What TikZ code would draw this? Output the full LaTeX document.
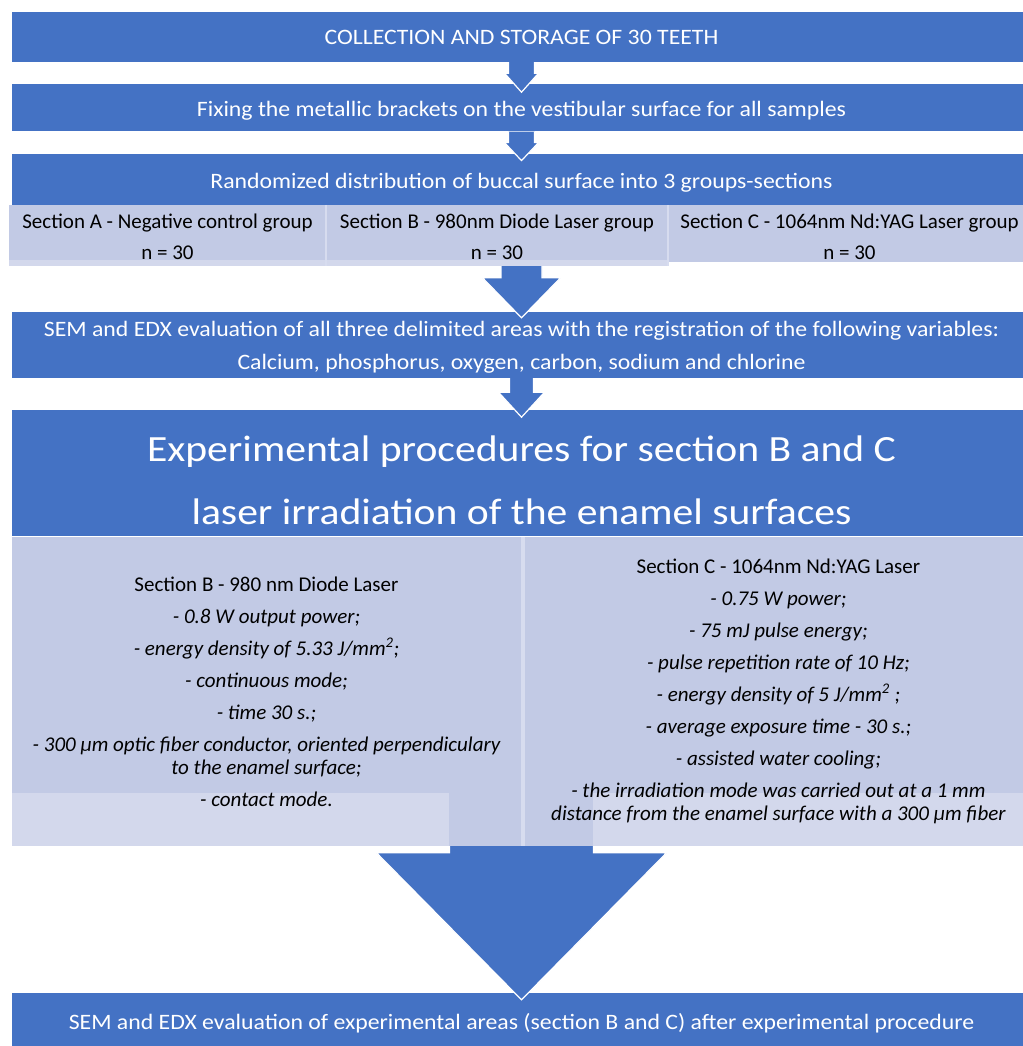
\documentclass[tikz,border=0pt]{standalone}
\usepackage{fontspec}
\setmainfont{Carlito}
\newfontfamily\widefont[FakeStretch=1.08]{Carlito}
\newfontfamily\titlefont[FakeStretch=1.125]{Carlito}
\usetikzlibrary{positioning,calc}

\definecolor{flowblue}{HTML}{4472C4}
\definecolor{cellgrey}{HTML}{C2CAE5}
\definecolor{celllight}{HTML}{D3D8EC}
\definecolor{cellline}{HTML}{D7DCEF}

\newcommand{\boxpad}[1]{\rule{0pt}{#1}}

\tikzset{
  bluebox/.style={fill=flowblue, text=white, minimum width=1019pt, inner sep=0pt, align=center, font=\widefont\fontsize{22}{33}\selectfont},
  cellbox/.style={fill=cellgrey, inner sep=0pt},
  celltext/.style={align=center, inner sep=0pt, font=\fontsize{21}{31}\selectfont},
  flowarrow/.style={fill=flowblue, draw=white, line width=1.2pt, line join=miter},
  listtext/.style={align=center, inner sep=0pt, font=\fontsize{21}{23}\selectfont\itshape}
}

% from, to, shaft half width, head half width, head length, overshoot
\newcommand{\blockarrow}[6]{%
  \path[flowarrow] let \p1=(#1.south), \p2=(#2.north) in
    (\x2-#3pt,\y1) -- (\x2-#3pt,\y2-#6pt+#5pt) -- (\x2-#4pt,\y2-#6pt+#5pt) -- (\x2,\y2-#6pt)
    -- (\x2+#4pt,\y2-#6pt+#5pt) -- (\x2+#3pt,\y2-#6pt+#5pt) -- (\x2+#3pt,\y1);
}

\begin{document}
\begin{tikzpicture}[x=1pt,y=1pt]
\useasboundingbox (0,0) rectangle (1022,-1046);

\node[bluebox, minimum height=50pt] (collect) at (521.5,-37) {COLLECTION AND STORAGE OF 30 TEETH};
\node[bluebox, minimum height=47pt, below=22pt of collect] (fixing) {\boxpad{21pt}Fixing the metallic brackets on the vestibular surface for all samples};
\node[bluebox, minimum height=52pt, below=22pt of fixing] (random) {\boxpad{22pt}Randomized distribution of buccal surface into 3 groups-sections};

\node[cellbox, minimum width=317pt, minimum height=61pt] (cellA) at (167.5,-235.5) {};
\node[cellbox, minimum width=342pt, minimum height=61pt] (cellB) at (497,-235.5) {};
\node[cellbox, minimum width=363pt, minimum height=57pt] (cellC) at (849.5,-233.5) {};
\fill[celllight] (cellA.south west) rectangle ($(cellB.south east)+(0,6)$);
\foreach \c in {cellA,cellB}
  \draw[cellline, line width=1.5pt] (\c.north east) -- (\c.south east);
\node[celltext] (txtA) at ($(cellA)+(0,-1)$) {Section A - Negative control group\\n = 30};
\node[celltext] (txtB) at ($(cellB)+(0,-1)$) {Section B - 980nm Diode Laser group\\n = 30};
\node[celltext] (txtC) at (cellC |- txtA) {Section C - 1064nm Nd:YAG Laser group\\n = 30};

\node[bluebox, minimum height=66pt] (evalall) at (521.5,-345) {\boxpad{20.5pt}SEM and EDX evaluation of all three delimited areas with the registration of the following variables:\\Calcium, phosphorus, oxygen, carbon, sodium and chlorine};
\node[bluebox, minimum height=126pt, below=32pt of evalall, font=\titlefont\fontsize{37}{63}\selectfont] (procs) {\boxpad{39pt}Experimental procedures for section B and C\\laser irradiation of the enamel surfaces};

\node[fill=cellgrey, minimum width=509pt, minimum height=309pt, inner sep=0pt, anchor=north west] (procB) at (procs.south west) {};
\node[fill=cellgrey, minimum width=506pt, minimum height=309pt, inner sep=0pt, anchor=north west] (procC) at ($(procB.north east)+(4,0)$) {};
\fill[cellline] (procB.north east) rectangle (procC.south west);
\fill[celllight] ($(procB.south west)+(0,53)$) rectangle ($(procB.south west)+(437,0)$);
\fill[celllight] ($(procC.south west)+(68,53)$) rectangle (procC.south east);

\node[listtext] (listB) at (procB) {\upshape Section B - 980 nm Diode Laser\\[9pt]
  - 0.8 W output power;\\[9pt]
  - energy density of 5.33 J/mm\textsuperscript{2};\\[9pt]
  - continuous mode;\\[9pt]
  - time 30 s.;\\[9pt]
  - 300 µm optic fiber conductor, oriented perpendiculary\\
  to the enamel surface;\\[9pt]
  - contact mode.};
\node[listtext] (listC) at (procC) {\upshape Section C - 1064nm Nd:YAG Laser\\[9pt]
  - 0.75 W power;\\[9pt]
  - 75 mJ pulse energy;\\[9pt]
  - pulse repetition rate of 10 Hz;\\[9pt]
  - energy density of 5 J/mm\textsuperscript{2} ;\\[9pt]
  - average exposure time - 30 s.;\\[9pt]
  - assisted water cooling;\\[9pt]
  - the irradiation mode was carried out at a 1 mm\\
  distance from the enamel surface with a 300 µm fiber};

\node[bluebox, minimum height=56pt] (final) at (521.5,-1021) {\boxpad{20.5pt}SEM and EDX evaluation of experimental areas (section B and C) after experimental procedure};

\blockarrow{collect}{fixing}{13}{17}{19}{8}
\blockarrow{fixing}{random}{13}{17}{18}{7}
\blockarrow{cellB}{evalall}{20.5}{39}{40}{6}
\blockarrow{evalall}{procs}{12}{23}{25}{7}
\blockarrow{procB}{final}{72}{145}{147}{7}
\end{tikzpicture}
\end{document}
